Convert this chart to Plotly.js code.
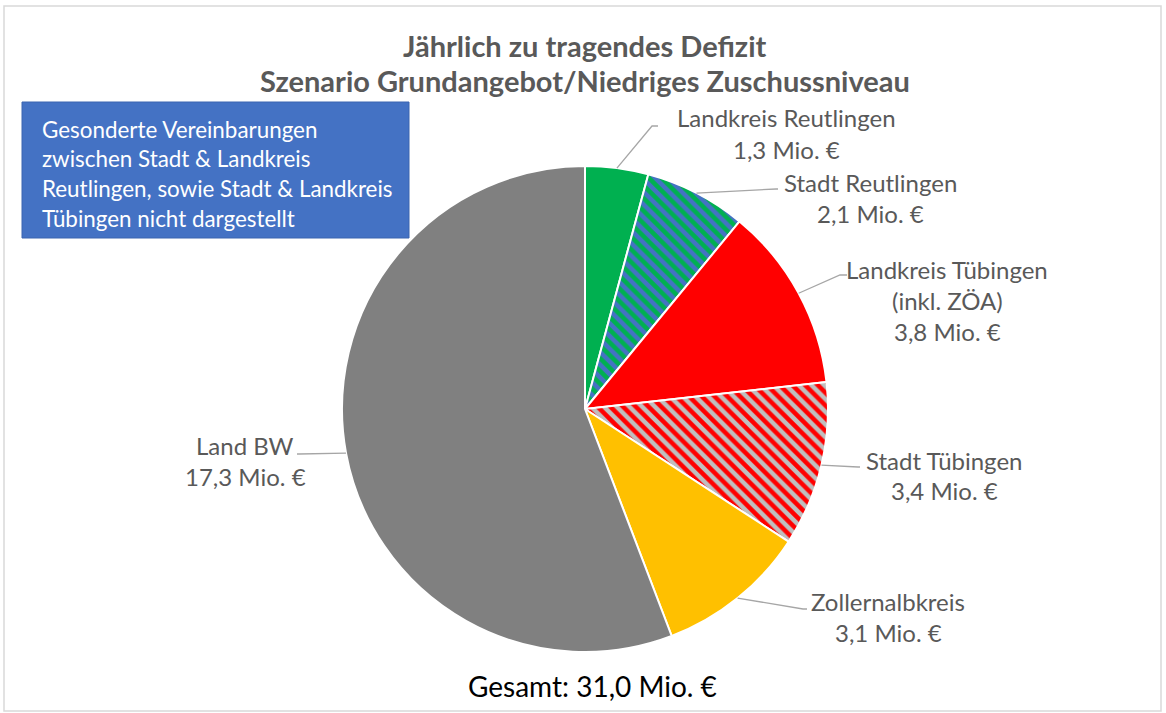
<!DOCTYPE html>
<html>
<head>
<meta charset="utf-8">
<script src="https://cdn.plot.ly/plotly-3.0.1.min.js"></script>
<style>html,body{margin:0;padding:0;background:#fff;}#chart{width:1166px;height:713px;}</style>
</head>
<body>
<div id="chart"></div>
<script>
// ---- data ----
const labels = ["Landkreis Reutlingen", "Stadt Reutlingen", "Landkreis Tübingen<br>(inkl. ZÖA)", "Stadt Tübingen", "Zollernalbkreis", "Land BW"];
const values = [1.3, 2.1, 3.8, 3.4, 3.1, 17.3];
const unit = " Mio. €";
const titleLines = ["Jährlich zu tragendes Defizit", "Szenario Grundangebot/Niedriges Zuschussniveau"];
const noteLines = ["Gesonderte Vereinbarungen", "zwischen Stadt & Landkreis", "Reutlingen, sowie Stadt & Landkreis", "Tübingen nicht dargestellt"];
const totalPrefix = "Gesamt: ";

// ---- styles ----
const baseColors = ["#00B050", "#4472C4", "#FF0000", "#BFBFBF", "#FFC000", "#808080"];
const stripeColors = ["#00B050", "#00B050", "#FF0000", "#FF0000", "#FFC000", "#808080"];
const stripeShapes = ["", "\\", "", "\\", "", ""];

const W = 1166, H = 713;
const FONT = "Lato, 'Open Sans', sans-serif";
const TXT = "#595959";
// pie geometry in pixels
const pie = {cx: 585, cy: 409, r: 243};
// label placement (pixels): elbow, line end, text centre x, first-line y
const labelPos = [
  {elbow: [652, 126], end: [658, 126], tx: 786, ty: 118},
  {elbow: [776, 189], end: [778, 189], tx: 870, ty: 183},
  {elbow: [840, 275], end: [847, 275], tx: 947, ty: 269},
  {elbow: [858, 467], end: [860, 467], tx: 944, ty: 460},
  {elbow: [803, 609], end: [807, 609], tx: 888, ty: 601},
  {elbow: [299, 454], end: [297, 454], tx: 245, ty: 445}
];
const lineGap = 31;

const px = x => x / W;
const py = y => 1 - y / H;
const fmt = v => v.toFixed(1).replace(".", ",") + unit;

const total = values.reduce((a, b) => a + b, 0);

const trace = {
  type: "pie",
  values: values,
  labels: labels,
  sort: false,
  direction: "clockwise",
  rotation: 0,
  textinfo: "none",
  hoverinfo: "label+value",
  domain: {x: [px(pie.cx - pie.r), px(pie.cx + pie.r)], y: [py(pie.cy + pie.r), py(pie.cy - pie.r)]},
  marker: {
    colors: baseColors,
    line: {color: "#FFFFFF", width: 2},
    pattern: {shape: stripeShapes, fgcolor: stripeColors, bgcolor: baseColors, size: 9, solidity: 0.5, fillmode: "replace"}
  }
};

const shapes = [];
const annotations = [];

// outer frame
shapes.push({type: "rect", xref: "paper", yref: "paper", x0: px(4), x1: px(1161), y0: py(711), y1: py(6),
  line: {color: "#D9D9D9", width: 1.5}, fillcolor: "rgba(0,0,0,0)", layer: "below"});

// title
titleLines.forEach((t, i) => {
  annotations.push({xref: "paper", yref: "paper", x: px(585), y: py(45 + i * 35), xanchor: "center", yanchor: "middle",
    text: "<b>" + t + "</b>", showarrow: false, font: {family: FONT, size: 29, color: TXT}});
});

// note box
shapes.push({type: "rect", xref: "paper", yref: "paper", x0: px(22), x1: px(409), y0: py(238), y1: py(102),
  fillcolor: "#4472C4", line: {color: "#3A64B0", width: 1}});
noteLines.forEach((t, i) => {
  annotations.push({xref: "paper", yref: "paper", x: px(40), y: py(129 + i * 29.7), xanchor: "left", yanchor: "middle",
    text: t, showarrow: false, font: {family: FONT, size: 22.4, color: "#FFFFFF"}});
});

// data labels with leader lines
let cum = 0;
values.forEach((v, i) => {
  const mid = (cum + v / 2) / total * 2 * Math.PI;
  cum += v;
  const ax = pie.cx + pie.r * Math.sin(mid);
  const ay = pie.cy - pie.r * Math.cos(mid);
  const L = labelPos[i];
  shapes.push({type: "path", xref: "paper", yref: "paper",
    path: `M ${px(ax)},${py(ay)} L ${px(L.elbow[0])},${py(L.elbow[1])} L ${px(L.end[0])},${py(L.end[1])}`,
    line: {color: "#A6A6A6", width: 1.3}});
  const lines = labels[i].split("<br>").concat([fmt(v)]);
  lines.forEach((t, j) => {
    annotations.push({xref: "paper", yref: "paper", x: px(L.tx), y: py(L.ty + j * lineGap), xanchor: "center", yanchor: "middle",
      text: t, showarrow: false, font: {family: FONT, size: 24, color: TXT}});
  });
});

// total
annotations.push({xref: "paper", yref: "paper", x: px(592), y: py(686), xanchor: "center", yanchor: "middle",
  text: totalPrefix + fmt(total), showarrow: false, font: {family: FONT, size: 28, color: "#000000"}});

const layout = {
  width: W, height: H,
  margin: {l: 0, r: 0, t: 0, b: 0},
  showlegend: false,
  paper_bgcolor: "#FFFFFF",
  shapes: shapes,
  annotations: annotations,
  font: {family: FONT}
};

Plotly.newPlot("chart", [trace], layout, {displayModeBar: false, staticPlot: true});
</script>
</body>
</html>
